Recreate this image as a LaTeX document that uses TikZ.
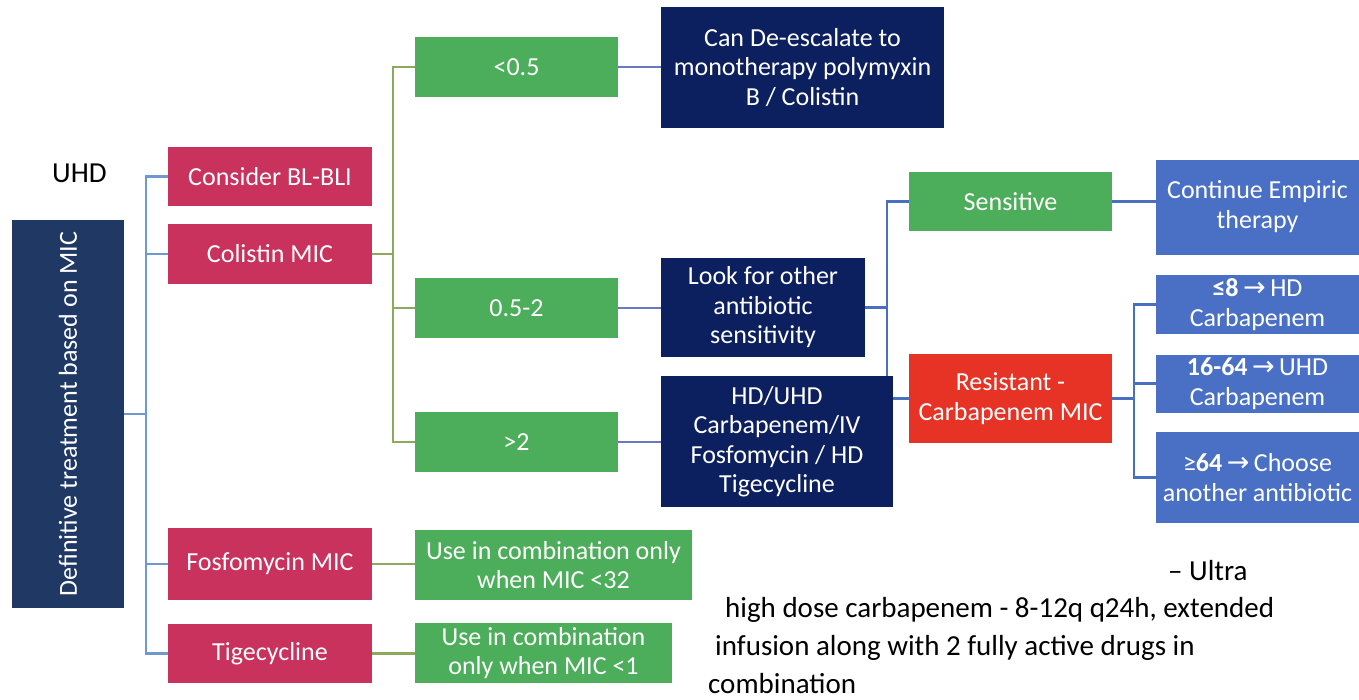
\documentclass[tikz,border=0pt]{standalone}
\usepackage{fontspec}
\setmainfont{Carlito}
\newfontfamily\symfont{DejaVu Sans}
\usetikzlibrary{backgrounds}

\definecolor{rootnavy}{HTML}{203864}
\definecolor{darknavy}{HTML}{0C1F5E}
\definecolor{crimson}{HTML}{C8325D}
\definecolor{leafgreen}{HTML}{4CAD5A}
\definecolor{alertred}{HTML}{E63325}
\definecolor{midblue}{HTML}{4A70C5}
\definecolor{linkblue}{HTML}{6F97D0}
\definecolor{linkolive}{HTML}{8DAA5B}
\definecolor{linkindigo}{HTML}{6A78C0}
\definecolor{linkmid}{HTML}{4A6FC0}

\newcommand{\rarr}{{\symfont\fontsize{27}{29.5}\selectfont\,→\,}}

\tikzset{
  box/.style={rectangle, inner sep=2pt, text=white, align=center,
    font=\fontsize{26}{29.5}\selectfont},
  rootbox/.style={box, fill=rootnavy},
  navybox/.style={box, fill=darknavy},
  redbox/.style={box, fill=crimson},
  greenbox/.style={box, fill=leafgreen},
  alertbox/.style={box, fill=alertred},
  bluebox/.style={box, fill=midblue},
  plain/.style={inner sep=0pt, text=black, font=\fontsize{29}{33}\selectfont},
  wire/.style={line width=2.4pt},
  bluewire/.style={wire, draw=linkblue},
  olivewire/.style={wire, draw=linkolive},
  indigowire/.style={wire, draw=linkindigo},
  midwire/.style={wire, draw=linkmid},
}

\begin{document}
\begin{tikzpicture}[x=1pt, y=-1pt]
\useasboundingbox (0,0) rectangle (1359,699);

% root
\node[rootbox, rotate=90, minimum width=388pt, minimum height=112pt] (root) at (68,414) {Definitive treatment based on MIC};

% first level
\node[redbox, minimum width=204pt, minimum height=59pt] (bli) at (270,176.5) {Consider BL-BLI};
\node[redbox, minimum width=204pt, minimum height=60pt] (col) at (270,254) {Colistin MIC};
\node[redbox, minimum width=204pt, minimum height=72pt] (fos) at (270,564) {Fosfomycin MIC};
\node[redbox, minimum width=204pt, minimum height=59pt] (tig) at (270,653.5) {Tigecycline};

% colistin MIC ranges
\node[greenbox, minimum width=203pt, minimum height=60pt] (lt) at (516.5,67) {<0.5};
\node[greenbox, minimum width=203pt, minimum height=60pt] (mid) at (516.5,308) {0.5-2};
\node[greenbox, minimum width=203pt, minimum height=60pt] (gt) at (516.5,442) {>2};

% fosfomycin / tigecycline advice
\node[greenbox, minimum width=277pt, minimum height=70pt] (fosuse) at (553.5,565) {Use in combination only\\when MIC <32};
\node[greenbox, minimum width=257pt, minimum height=60pt] (tiguse) at (543.5,653) {Use in combination\\only when MIC <1};

% actions
\node[navybox, minimum width=283pt, minimum height=121pt] (desc) at (802.5,67.5) {Can De-escalate to\\monotherapy polymyxin\\B / Colistin};
\node[navybox, minimum width=204pt, minimum height=99pt] (look) at (763,307.5) {Look for other\\antibiotic\\sensitivity};

% sensitivity branches
\node[greenbox, minimum width=203pt, minimum height=59pt] (sens) at (1010.5,201.5) {Sensitive};
\node[alertbox, minimum width=203pt, minimum height=89pt] (res) at (1010.5,398.5) {Resistant -\\Carbapenem MIC};

\node[bluebox, minimum width=203pt, minimum height=95pt] (cont) at (1257.5,207.5)
  {\raisebox{6pt}{\begin{tabular}{@{}c@{}}Continue Empiric\\therapy\end{tabular}}};
\node[bluebox, minimum width=203pt, minimum height=59pt] (le8) at (1257.5,304.5) {\textbf{≤8}\rarr HD\\Carbapenem};
\node[bluebox, minimum width=203pt, minimum height=58pt] (r1664) at (1257.5,383.5) {\textbf{16-64}\rarr UHD\\Carbapenem};
\node[bluebox, minimum width=203pt, minimum height=91pt] (ge64) at (1257.5,477.5) {≥\textbf{64}\rarr Choose\\another antibiotic};

% connectors, kept behind the boxes
\begin{scope}[on background layer]
  \draw[bluewire] (root.south) -- ++(22,0);
  \draw[bluewire] (bli.west) -- ++(-22,0) |- (tig.west);
  \draw[bluewire] (col.west) -- ++(-22,0);
  \draw[bluewire] (fos.west) -- ++(-22,0);

  \draw[olivewire] (col.east) -- ++(21,0);
  \draw[olivewire] (lt.west) -- ++(-22,0) |- (gt.west);
  \draw[olivewire] (mid.west) -- ++(-22,0);
  \draw[olivewire] (fos.east) -- (fosuse.west |- fos.east);
  \draw[olivewire] (tig.east) -- (tiguse.west |- tig.east);

  \draw[indigowire] (lt.east) -- (desc.west |- lt.east);
  \draw[indigowire] (mid.east) -- (look.west |- mid.east);
  \draw[indigowire] (gt.east) -- ++(43,0);

  \draw[midwire] (look.east) -- ++(22,0);
  \draw[midwire] (sens.west) -- ++(-22,0) |- (res.west);
  \draw[midwire] (sens.east) -- (cont.west |- sens.east);
  \draw[midwire] (res.east) -- ++(22,0);
  \draw[midwire] (le8.west) -- ++(-22,0) |- (ge64.west);
  \draw[midwire] (r1664.west) -- ++(-22,0);
\end{scope}

% combined therapy box sits over the branch line
\node[navybox, minimum width=232pt, minimum height=131pt] (hd) at (777,441.5) {HD/UHD\\Carbapenem/IV\\Fosfomycin / HD\\Tigecycline};

% free text
\node[plain, anchor=base west] (uhd) at (52,182) {UHD};
\node[plain, anchor=base west] (note1) at (1168,580) {– Ultra};
\node[plain, anchor=base west] (note2) at (725,617) {high dose carbapenem - 8-12q q24h, extended};
\node[plain, anchor=base west] (note3) at (715,655) {infusion along with 2 fully active drugs in};
\node[plain, anchor=base west] (note4) at (708,693) {combination};
\end{tikzpicture}
\end{document}
